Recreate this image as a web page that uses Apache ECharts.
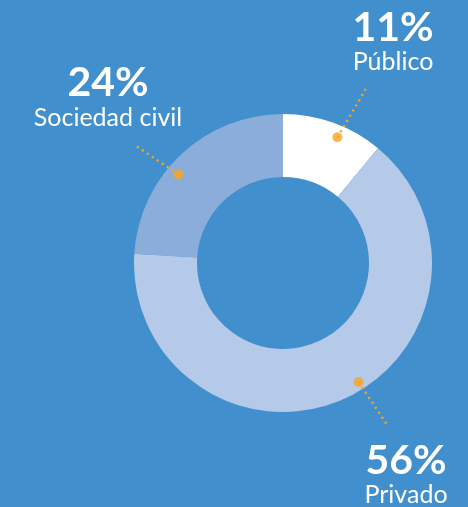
<!DOCTYPE html>
<html>
<head>
<meta charset="utf-8">
<script src="https://cdn.jsdelivr.net/npm/echarts@6/dist/echarts.min.js"></script>
<style>
  html, body { margin: 0; padding: 0; background: #4190cd; }
  #main { width: 468px; height: 507px; }
</style>
</head>
<body>
<div id="main"></div>
<script>
// slices as drawn (clockwise from 12 o'clock)
var categories = ['Público', 'Privado', 'Sociedad civil'];
var shares = [11, 65, 24];
var pctLabels = ['11%', '56%', '24%'];
var sliceColors = ['#ffffff', '#b5c9e9', '#8badda'];

// leader lines in polar units: [radius px, angle in % of the circle]
var dotPoints = [[137, 6.5], [141, 41.0], [137, 86.2]];
var lineEnds = [[197, 7.1], [193, 40.9], [189, 85.7]];

var CX = 283, CY = 263;
var orange = '#f5a623';

var chartDom = document.getElementById('main');
var myChart = echarts.init(chartDom);

var series = [
  {
    type: 'pie',
    center: [CX, CY],
    radius: [86, 149],
    startAngle: 90,
    clockwise: true,
    silent: true,
    label: { show: false },
    labelLine: { show: false },
    data: categories.map(function (name, i) {
      return { name: name, value: shares[i], itemStyle: { color: sliceColors[i] } };
    })
  }
];

categories.forEach(function (name, i) {
  series.push({
    type: 'line',
    coordinateSystem: 'polar',
    silent: true,
    showSymbol: false,
    lineStyle: { color: orange, width: 2.5, type: [2, 4] },
    data: [dotPoints[i], lineEnds[i]],
    z: 3
  });
});

series.push({
  type: 'scatter',
  coordinateSystem: 'polar',
  silent: true,
  symbolSize: 10,
  itemStyle: { color: orange },
  data: dotPoints,
  z: 4
});

// label blocks
var labelSpots = [
  { x: 393, y1: 28, y2: 62 },
  { x: 406, y1: 461, y2: 495 },
  { x: 108, y1: 83, y2: 118 }
];
var graphics = [];
categories.forEach(function (name, i) {
  var s = labelSpots[i];
  graphics.push({
    type: 'text', x: s.x, y: s.y1, silent: true,
    style: { text: pctLabels[i], fill: '#fff', font: 'bold 41px Lato', align: 'center', verticalAlign: 'middle' }
  });
  graphics.push({
    type: 'text', x: s.x, y: s.y2, silent: true,
    style: { text: name, fill: '#fff', font: '25px Lato', align: 'center', verticalAlign: 'middle' }
  });
});

var option = {
  backgroundColor: '#4190cd',
  animation: false,
  polar: { center: [CX, CY], radius: 250 },
  angleAxis: {
    type: 'value', min: 0, max: 100, startAngle: 90, clockwise: true,
    axisLine: { show: false }, axisTick: { show: false },
    axisLabel: { show: false }, splitLine: { show: false }
  },
  radiusAxis: {
    type: 'value', min: 0, max: 250,
    axisLine: { show: false }, axisTick: { show: false },
    axisLabel: { show: false }, splitLine: { show: false }
  },
  series: series,
  graphic: graphics
};

myChart.setOption(option);
</script>
</body>
</html>
